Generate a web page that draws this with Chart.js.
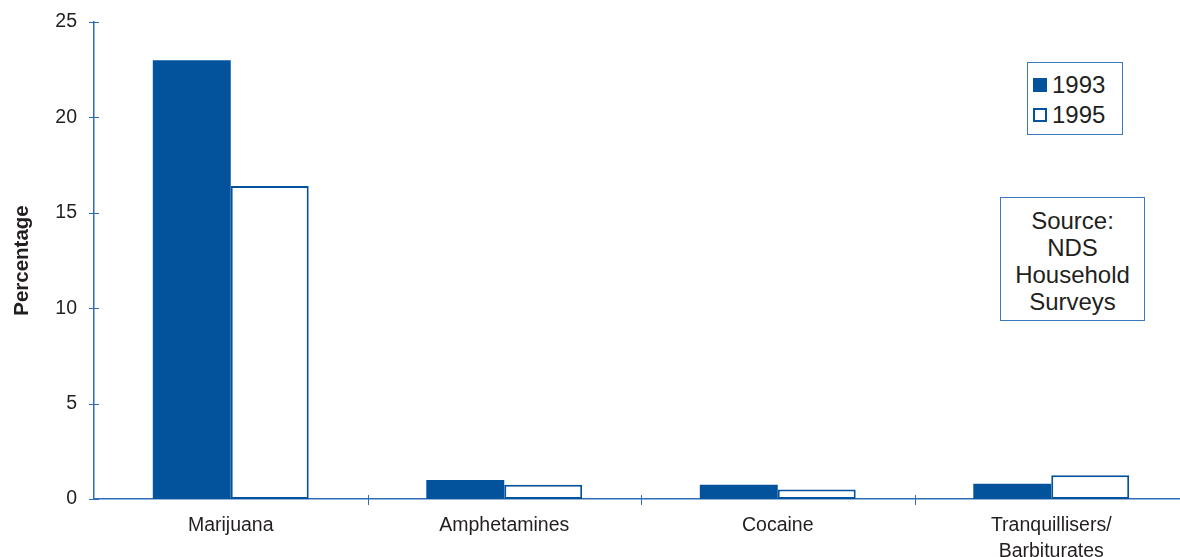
<!DOCTYPE html>
<html>
<head>
<meta charset="utf-8">
<script src="https://cdn.jsdelivr.net/npm/chart.js@4.4.1/dist/chart.umd.min.js"></script>
<style>
  html, body { margin: 0; padding: 0; background: #fff; overflow: hidden; }
  #wrap { position: relative; width: 1190px; height: 557px; }
  canvas { position: absolute; left: 0; top: 0; }
  .box {
    position: absolute; border: 1.5px solid #3a78c0; background: #fff;
    font-family: "Liberation Sans", Arial, sans-serif; color: #231f20;
    box-sizing: border-box;
  }
  #legend { left: 1027px; top: 62px; width: 96px; height: 73px; }
  .item { position: absolute; left: 5px; font-size: 24px; line-height: 28px; }
  .sw { position: absolute; left: 0; width: 14px; height: 14px; box-sizing: border-box; }
  .item span.t { position: absolute; left: 19px; white-space: nowrap; }
  #source { left: 1000px; top: 197px; width: 145px; height: 124px;
    font-size: 24px; line-height: 27px; text-align: center; padding-top: 9px; }
</style>
</head>
<body>
<div id="wrap">
  <canvas id="c" width="1190" height="557"></canvas>
  <div id="legend" class="box"></div>
  <div id="source" class="box">Source:<br>NDS<br>Household<br>Surveys</div>
</div>
<script>
// Drug use categories and survey results (percentage of respondents)
const categories = ["Marijuana", "Amphetamines", "Cocaine", ["Tranquillisers/", "Barbiturates"]];
const seriesNames = ["1993", "1995"];
const values1993 = [23.0, 1.0, 0.75, 0.8];
const values1995 = [16.4, 0.75, 0.5, 1.25];
const yTicks = [0, 5, 10, 15, 20, 25];

const BLUE = "#03529c";
const AXIS = "#2f6db8";
const TEXT = "#231f20";
const FONT = "'Liberation Sans', Arial, sans-serif";

// Tick marks that cross the axis lines
const crossTicks = {
  id: "crossTicks",
  afterDraw(chart) {
    const { ctx, scales: { x, y }, chartArea } = chart;
    ctx.save();
    ctx.strokeStyle = AXIS;
    ctx.lineWidth = 1;
    ctx.beginPath();
    yTicks.forEach(v => {
      const py = Math.round(y.getPixelForValue(v)) + 0.5;
      ctx.moveTo(chartArea.left - 5, py);
      ctx.lineTo(chartArea.left + 5, py);
    });
    for (let i = 1; i < categories.length; i++) {
      const px = Math.round((x.getPixelForValue(i - 1) + x.getPixelForValue(i)) / 2) + 0.5;
      ctx.moveTo(px, chartArea.bottom - 4);
      ctx.lineTo(px, chartArea.bottom + 6);
    }
    ctx.stroke();
    ctx.restore();
  }
};

const chart = new Chart(document.getElementById("c"), {
  type: "bar",
  data: {
    labels: categories,
    datasets: [
      { label: seriesNames[0], data: values1993, backgroundColor: BLUE, borderColor: BLUE, borderWidth: 0 },
      { label: seriesNames[1], data: values1995, backgroundColor: "#ffffff", borderColor: BLUE, borderWidth: 2, borderSkipped: false }
    ]
  },
  options: {
    responsive: false,
    animation: false,
    layout: { padding: { top: 22, right: 2, left: 0, bottom: 0 } },
    datasets: { bar: { categoryPercentage: 0.57, barPercentage: 1.0 } },
    plugins: { legend: { display: false }, tooltip: { enabled: false } },
    scales: {
      x: {
        grid: { display: false, drawOnChartArea: false },
        border: { display: true, color: AXIS, width: 1.5 },
        ticks: { color: TEXT, font: { family: FONT, size: 19.5, lineHeight: 1.33 }, padding: 6, maxRotation: 0, autoSkip: false },
        afterFit(s) { s.height = 58; }
      },
      y: {
        min: 0, max: 25,
        afterBuildTicks(s) { s.ticks = yTicks.map(v => ({ value: v })); },
        grid: { display: false, drawOnChartArea: false },
        border: { display: true, color: AXIS, width: 1.5 },
        ticks: { color: TEXT, font: { family: FONT, size: 19.5 }, padding: 9 },
        title: { display: true, text: "Percentage", color: TEXT, font: { family: FONT, size: 20.5, weight: "bold" }, padding: { top: 10, bottom: 0 } },
        afterFit(s) { s.width = 94; }
      }
    }
  },
  plugins: [crossTicks]
});

// Legend entries built from the dataset definitions
const legend = document.getElementById("legend");
chart.data.datasets.forEach((ds, i) => {
  const item = document.createElement("div");
  item.className = "item";
  item.style.top = (8 + i * 30) + "px";
  const sw = document.createElement("div");
  sw.className = "sw";
  sw.style.top = "7px";
  sw.style.background = ds.backgroundColor;
  sw.style.border = "2px solid " + BLUE;
  const t = document.createElement("span");
  t.className = "t";
  t.textContent = ds.label;
  item.appendChild(sw);
  item.appendChild(t);
  legend.appendChild(item);
});
</script>
</body>
</html>
